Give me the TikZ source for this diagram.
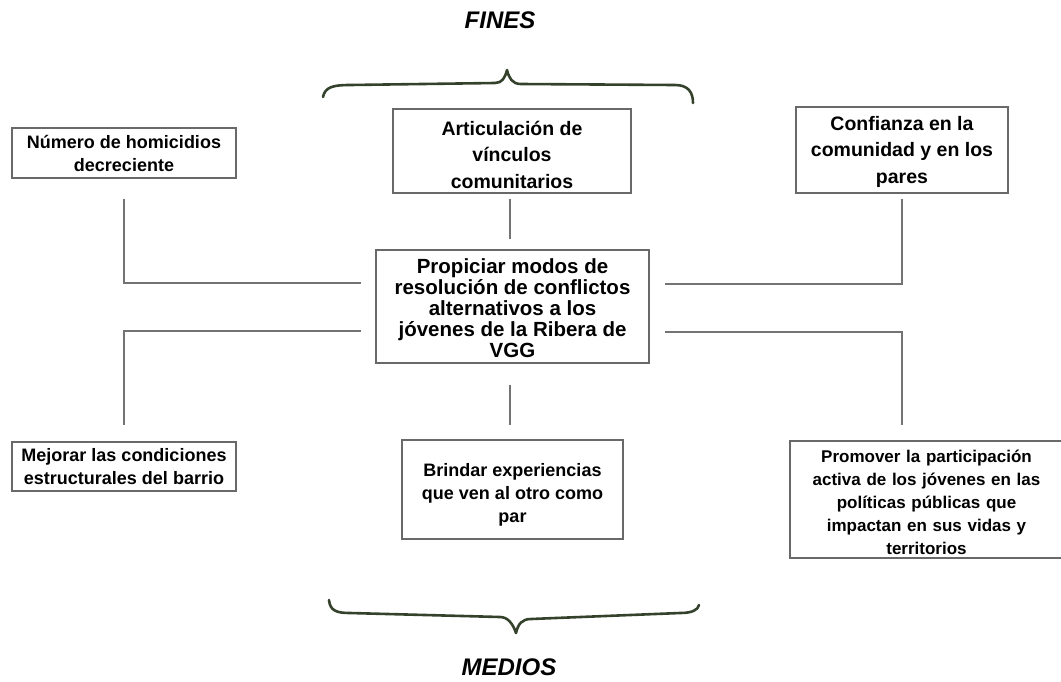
\documentclass[tikz,border=0pt]{standalone}
\usepackage{fontspec}
\setmainfont{Liberation Sans}
\definecolor{boxgray}{RGB}{105,105,105}
\definecolor{linegray}{RGB}{115,115,115}
\definecolor{bracegreen}{RGB}{52,66,44}
\newcommand{\lowr}[1]{\rule{0pt}{#1pt}}
\tikzset{
  box/.style={draw=boxgray, line width=1.3pt, fill=white, align=center, inner sep=0pt, font=\bfseries\fontsize{18}{23}\selectfont},
  bigbox/.style={box, font=\bfseries\fontsize{19.5}{26.5}\selectfont},
  centerbox/.style={box, font=\bfseries\fontsize{20.5}{21}\selectfont},
  conn/.style={draw=linegray, line width=1.4pt},
  bracestyle/.style={draw=bracegreen, line width=2.6pt, line cap=round, line join=round},
  title/.style={font=\bfseries\itshape\fontsize{24}{26}\selectfont, inner sep=0pt}
}
\begin{document}
\begin{tikzpicture}[x=1pt,y=-1pt]
\useasboundingbox (0,0) rectangle (1061,681);
\node[title] (fines) at (500,20) {FINES};
\node[title] (medios) at (509,667) {MEDIOS};

\node[box, minimum width=224pt, minimum height=50pt] (hom) at (124,153) {Número de homicidios\\decreciente};
\node[bigbox, minimum width=238pt, minimum height=84pt] (art) at (512,151) {\lowr{22}Articulación de\\vínculos\\comunitarios};
\node[bigbox, minimum width=212pt, minimum height=86pt] (conf) at (902,150) {\lowr{18}Confianza en la\\comunidad y en los\\pares};
\node[centerbox, minimum width=273pt, minimum height=113pt] (cen) at (512.5,306.5) {\lowr{19}Propiciar modos de\\resolución de conflictos\\alternativos a los\\jóvenes de la Ribera de\\VGG};
\node[box, minimum width=224pt, minimum height=49pt] (mej) at (124,466.5) {Mejorar las condiciones\\estructurales del barrio};
\node[box, minimum width=221pt, minimum height=99pt] (brin) at (512.5,489.5) {\lowr{23}Brindar experiencias\\que ven al otro como\\par};
\node[box, minimum width=273pt, minimum height=117pt, text width=271pt, font=\bfseries\fontsize{17}{23}\selectfont] (prom) at (926.5,499.5) {\lowr{19}Promover la participación\\activa de los jóvenes en las\\políticas públicas que\\impactan en sus vidas y\\territorios};

% connectors
\draw[conn, shorten <=20pt, shorten >=14pt] (hom.south) |- (cen.west |- 0,283);
\draw[conn, shorten <=5pt, shorten >=10pt] (art.south -| 510,0) -- (cen.north -| 510,0);
\draw[conn, shorten <=5pt, shorten >=15pt] (conf.south) |- (cen.east |- 0,284);
\draw[conn, shorten <=14pt, shorten >=16pt] (cen.west |- 0,331) -| (mej.north);
\draw[conn, shorten <=21pt, shorten >=14pt] (cen.south -| 510,0) -- (brin.north -| 510,0);
\coordinate (promtop) at (prom.north -| conf.south);
\draw[conn, shorten <=15pt, shorten >=15pt] (cen.east |- 0,332) -| (promtop);

% braces
\draw[bracestyle] (323,97) .. controls (325,87) and (333,85) .. (350,85) -- (495,83)
  .. controls (502,83) and (505,78) .. (507,70)
  .. controls (509,78) and (512,84) .. (521,84) -- (675,85)
  .. controls (688,85) and (693,92) .. (693,103);
\draw[bracestyle] (329,600) .. controls (330,611) and (337,613) .. (350,613) -- (500,617)
  .. controls (508,617) and (513,624) .. (516,633)
  .. controls (518,624) and (522,619) .. (531,619) -- (680,613)
  .. controls (692,613) and (698,610) .. (699,605);
\end{tikzpicture}
\end{document}
